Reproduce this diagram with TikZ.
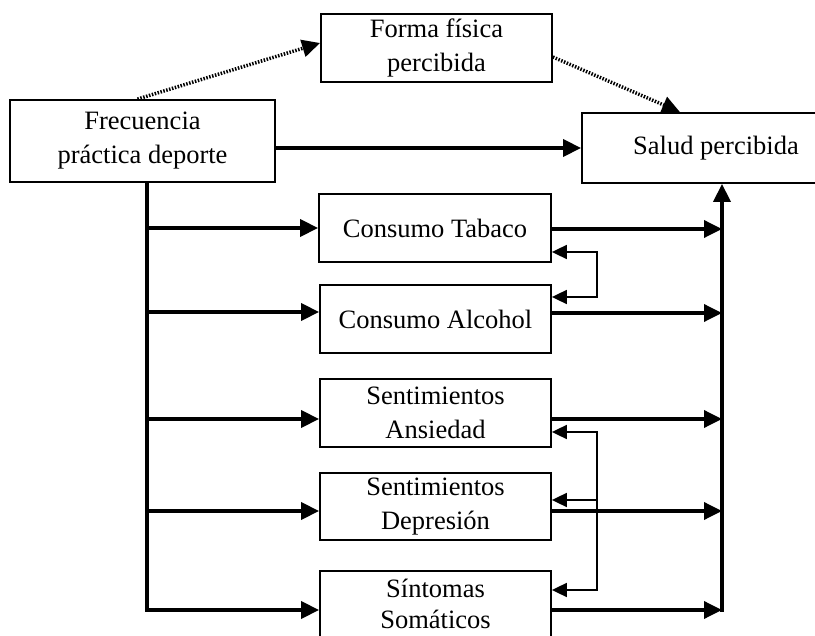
\documentclass[tikz,border=0pt]{standalone}
\usepackage{fontspec}
\setmainfont{Liberation Serif}
\usetikzlibrary{arrows.meta,positioning}

\tikzset{
  box/.style={draw,line width=1.8pt,align=center,inner sep=0pt,
    font=\fontsize{26.5}{34}\selectfont},
  main/.style={line width=3.5pt,-{Triangle[length=18pt,width=17pt]}},
  fb/.style={line width=1.8pt,{Triangle[length=15pt,width=14pt]}-{Triangle[length=15pt,width=14pt]}},
  dots/.style={line width=3.5pt,dash pattern=on 1.5pt off 1.5pt,
    -{Triangle[length=18pt,width=17pt]}}
}

\begin{document}
\begin{tikzpicture}[x=1pt,y=-1pt]
  \useasboundingbox (0,0) rectangle (815,636);
  \clip (0,0) rectangle (815,636);
  \fill[white] (0,0) rectangle (815,636);
  % boxes
  \node[box,minimum width=265pt,minimum height=82pt] (frec) at (142.5,141) {Frecuencia\\pr\'actica deporte};
  \node[box,minimum width=231pt,minimum height=68pt] (forma) at (436.5,48) {Forma f\'isica\\percibida};
  \node[box,minimum width=268pt,minimum height=70pt] (salud) at (716,148) {Salud percibida};
  \node[box,minimum width=232pt,minimum height=68pt] (tab) at (435,228) {Consumo Tabaco};
  \node[box,minimum width=231pt,minimum height=68pt] (alc) at (435.5,319) {Consumo Alcohol};
  \node[box,minimum width=231pt,minimum height=68pt] (ans) at (435.5,413) {Sentimientos\\Ansiedad};
  \node[box,minimum width=231pt,minimum height=67pt] (dep) at (435.5,506.5) {Sentimientos\\Depresi\'on};
  \node[box,minimum width=231pt,minimum height=66pt,font=\fontsize{26.5}{31}\selectfont] (sint) at (435.5,604) {S\'intomas\\Som\'aticos};
  % forma fisica path
  \draw[dots] ([xshift=-5pt]frec.north) -- ([yshift=5pt]forma.west);
  \draw[dots] ([yshift=-9pt]forma.east) -- ([xshift=-36pt]salud.north);
  \draw[main] (frec.east |- salud.west) -- (salud.west);
  % left spine
  \coordinate (spine) at (147,182);
  \draw[line width=3.5pt] (spine) -- (147,611.75);
  \foreach \n/\s in {tab/0,alc/7,ans/-6,dep/-4.5,sint/-6}{
    \coordinate (\n-in) at ([yshift=\s pt]\n.west);
    \draw[main] (spine |- \n-in) -- (\n-in);
  }
  % right collector
  \coordinate (bus) at (722,611.75);
  \draw[main] (bus) -- (bus |- salud.south);
  \foreach \n/\s in {tab/-1,alc/6,ans/-6,dep/-4.5,sint/-6}{
    \coordinate (\n-out) at ([yshift=\s pt]\n.east);
    \draw[main] (\n-out) -- (bus |- \n-out);
  }
  % correlations
  \draw[fb] ([yshift=-24pt]tab.east) -- ++(45,0) |- ([yshift=22pt]alc.east);
  \draw[fb] ([yshift=-19pt]ans.east) -- ++(45,0) coordinate (loop) |- ([yshift=14pt]sint.east);
  \coordinate (dep-fb) at ([yshift=6.5pt]dep.east);
  \draw[fb,{}-{Triangle[length=15pt,width=14pt]}] (loop |- dep-fb) -- (dep-fb);
\end{tikzpicture}
\end{document}
